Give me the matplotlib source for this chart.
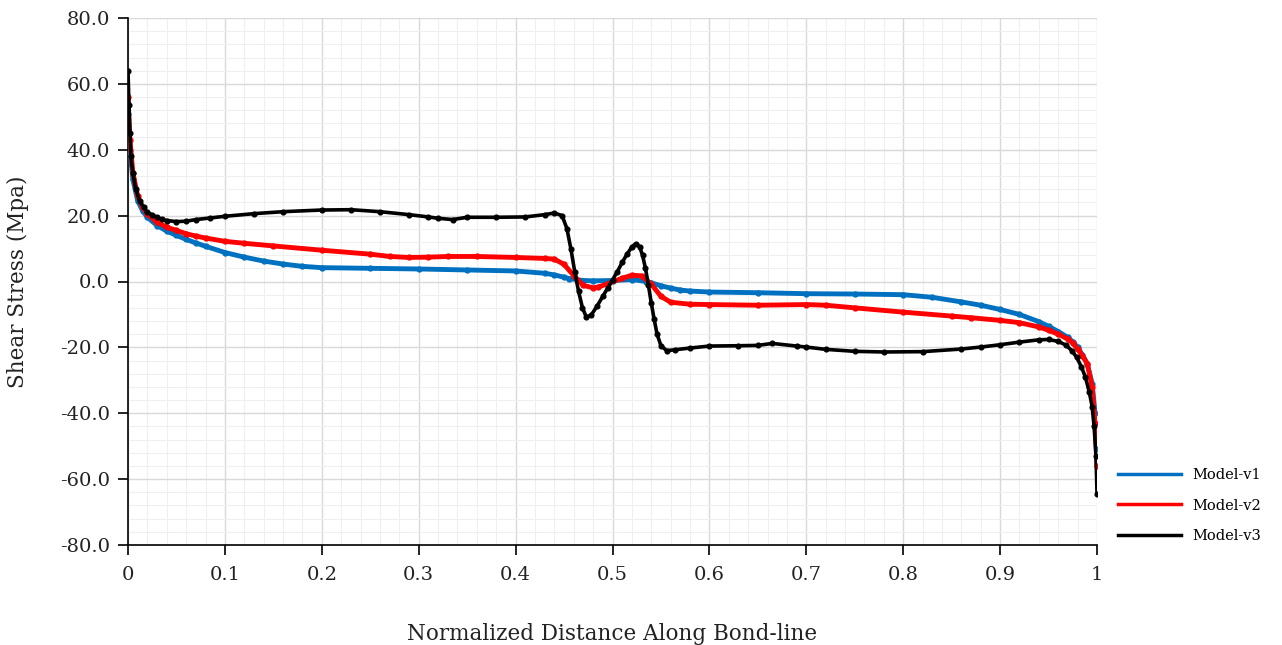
import matplotlib
matplotlib.use("Agg")
import matplotlib.pyplot as plt
from matplotlib.lines import Line2D
from matplotlib.ticker import MultipleLocator, FuncFormatter

# values
x_v1 = [0.0, 0.002, 0.005, 0.01, 0.015, 0.02, 0.03, 0.04, 0.05, 0.06, 0.07,
        0.08, 0.1, 0.12, 0.14, 0.16, 0.18, 0.2, 0.25, 0.3, 0.35, 0.4, 0.43,
        0.44, 0.45, 0.455, 0.47, 0.48, 0.5, 0.52, 0.535, 0.54, 0.55, 0.56,
        0.57, 0.58, 0.6, 0.65, 0.7, 0.75, 0.8, 0.83, 0.86, 0.88, 0.9, 0.92,
        0.94, 0.95, 0.96, 0.97, 0.975, 0.98, 0.985, 0.99, 0.995, 0.998, 1.0]
y_v1 = [51, 40, 31, 24.5, 21.5, 19.5, 17.0, 15.3, 14.0, 12.8, 11.7,
        10.7, 8.8, 7.4, 6.2, 5.3, 4.6, 4.2, 4.0, 3.8, 3.5, 3.2, 2.5,
        2.0, 1.3, 0.9, 0.3, 0.2, 0.3, 0.6, 0.0, -0.4, -1.3, -2.0,
        -2.6, -2.9, -3.2, -3.4, -3.7, -3.8, -4.0, -4.8, -6.2, -7.2, -8.5, -10.0,
        -12.2, -13.6, -15.2, -17.0, -18.3, -20.0, -22.3, -25.0, -31.0, -40.0, -51.0]

x_v2 = [0.0, 0.002, 0.005, 0.01, 0.015, 0.02, 0.03, 0.04, 0.05, 0.06, 0.07,
        0.08, 0.1, 0.12, 0.15, 0.2, 0.25, 0.27, 0.29, 0.31, 0.33, 0.36, 0.4,
        0.43, 0.44, 0.45, 0.46, 0.47, 0.48, 0.485, 0.495, 0.51, 0.52, 0.53,
        0.54, 0.55, 0.56, 0.58, 0.6, 0.65, 0.7, 0.72, 0.75, 0.8, 0.85, 0.87,
        0.9, 0.92, 0.94, 0.95, 0.96, 0.97, 0.975, 0.98, 0.985, 0.99, 0.995,
        0.998, 1.0]
y_v2 = [56, 43, 33, 26, 22.5, 20.5, 18.0, 16.5, 15.5, 14.5, 13.8,
        13.2, 12.2, 11.6, 10.8, 9.5, 8.3, 7.6, 7.3, 7.4, 7.6, 7.6, 7.3,
        7.0, 6.8, 5.2, 1.8, -1.2, -1.9, -1.7, -0.7, 1.0, 1.9, 1.7,
        -0.8, -4.5, -6.3, -6.9, -7.0, -7.2, -7.0, -7.2, -8.0, -9.3, -10.5, -11.0,
        -11.8, -12.5, -13.8, -14.8, -16.0, -17.5, -18.7, -20.5, -22.5, -25.0, -32.0,
        -43.0, -56.0]

x_v3 = [0.0, 0.001, 0.002, 0.003, 0.005, 0.008, 0.012, 0.016, 0.02, 0.025,
        0.03, 0.035, 0.04, 0.05, 0.06, 0.07, 0.085, 0.1, 0.13, 0.16, 0.2,
        0.23, 0.26, 0.29, 0.31, 0.32, 0.335, 0.35, 0.38, 0.41, 0.43, 0.44,
        0.448, 0.453, 0.457, 0.461, 0.465, 0.469, 0.473, 0.478, 0.484, 0.49,
        0.495, 0.5, 0.505, 0.51, 0.515, 0.52, 0.524, 0.528, 0.531, 0.534,
        0.537, 0.54, 0.543, 0.546, 0.55, 0.556, 0.565, 0.58, 0.6, 0.63, 0.65,
        0.665, 0.69, 0.7, 0.72, 0.75, 0.78, 0.82, 0.86, 0.88, 0.9, 0.92, 0.94,
        0.95, 0.96, 0.968, 0.974, 0.979, 0.984, 0.988, 0.992, 0.995, 0.997,
        0.999, 1.0]
y_v3 = [64, 53.5, 45, 38, 33, 28, 24.5, 22.5, 21.0, 20.2,
        19.5, 18.9, 18.5, 18.2, 18.3, 18.8, 19.3, 19.8, 20.6, 21.2, 21.7,
        21.8, 21.2, 20.3, 19.6, 19.2, 18.8, 19.5, 19.5, 19.6, 20.3, 20.8,
        20.0, 16.0, 10.0, 3.0, -3.0, -8.0, -10.8, -10.2, -7.5, -4.5,
        -2.0, 0.5, 3.0, 5.8, 8.3, 10.5, 11.5, 10.5, 8.0, 4.0,
        -1.0, -6.5, -11.5, -16.0, -19.5, -21.0, -20.7, -20.2, -19.6, -19.5, -19.4,
        -18.8, -19.6, -19.9, -20.6, -21.2, -21.4, -21.3, -20.5, -19.9, -19.2, -18.4, -17.7,
        -17.6, -18.2, -19.3, -21.0, -23.0, -26.0, -29.0, -33.5, -38.0, -44.0,
        -53.0, -64.5]

labels = ["Model-v1", "Model-v2", "Model-v3"]
colors = ["#0070C0", "#FF0000", "#000000"]

plt.rcParams['font.family'] = ['DejaVu Serif']

fig = plt.figure(figsize=(12.82, 6.45), dpi=100)
ax = fig.add_axes([128 / 1282, 100 / 645, 969 / 1282, 527 / 645])

ax.plot(x_v1, y_v1, color=colors[0], linewidth=3.5, marker='o', markersize=3.5, zorder=3)
ax.plot(x_v2, y_v2, color=colors[1], linewidth=3.5, marker='o', markersize=3.5, zorder=4)
ax.plot(x_v3, y_v3, color=colors[2], linewidth=2.6, marker='o', markersize=3.4, zorder=5)

ax.set_xlim(0, 1)
ax.set_ylim(-80, 80)
ax.xaxis.set_major_locator(MultipleLocator(0.1))
ax.xaxis.set_minor_locator(MultipleLocator(0.02))
ax.yaxis.set_major_locator(MultipleLocator(20))
ax.yaxis.set_minor_locator(MultipleLocator(4))
ax.xaxis.set_major_formatter(FuncFormatter(lambda v, p: "%g" % round(v, 2)))
ax.yaxis.set_major_formatter(FuncFormatter(lambda v, p: "%.1f" % v))

ax.grid(which='major', color='#d9d9d9', linewidth=1.0)
ax.grid(which='minor', color='#efefef', linewidth=0.8)
ax.set_axisbelow(True)

for s in ['top', 'right']:
    ax.spines[s].set_visible(False)
for s in ['left', 'bottom']:
    ax.spines[s].set_color('black')
    ax.spines[s].set_linewidth(1.2)

ax.tick_params(which='major', direction='out', length=7, width=1.2, labelsize=14,
               colors='black', labelcolor='#222222')
ax.tick_params(which='minor', length=0)
ax.tick_params(axis='x', pad=8)
ax.tick_params(axis='y', pad=6)

ax.set_xlabel("Normalized Distance Along Bond-line", fontsize=15.5, labelpad=28, color='#222222')
ax.set_ylabel("Shear Stress (Mpa)", fontsize=15.5, labelpad=22, color='#222222')

handles = [Line2D([], [], color=c, linewidth=2.5) for c in colors]
fig.legend(handles, labels, loc='upper left', bbox_to_anchor=(1112 / 1282, 1 - 462 / 645),
           frameon=False, fontsize=10.5, handlelength=4.3, handletextpad=0.8,
           labelspacing=1.15, borderaxespad=0)

fig.savefig("out.png", dpi=100)
